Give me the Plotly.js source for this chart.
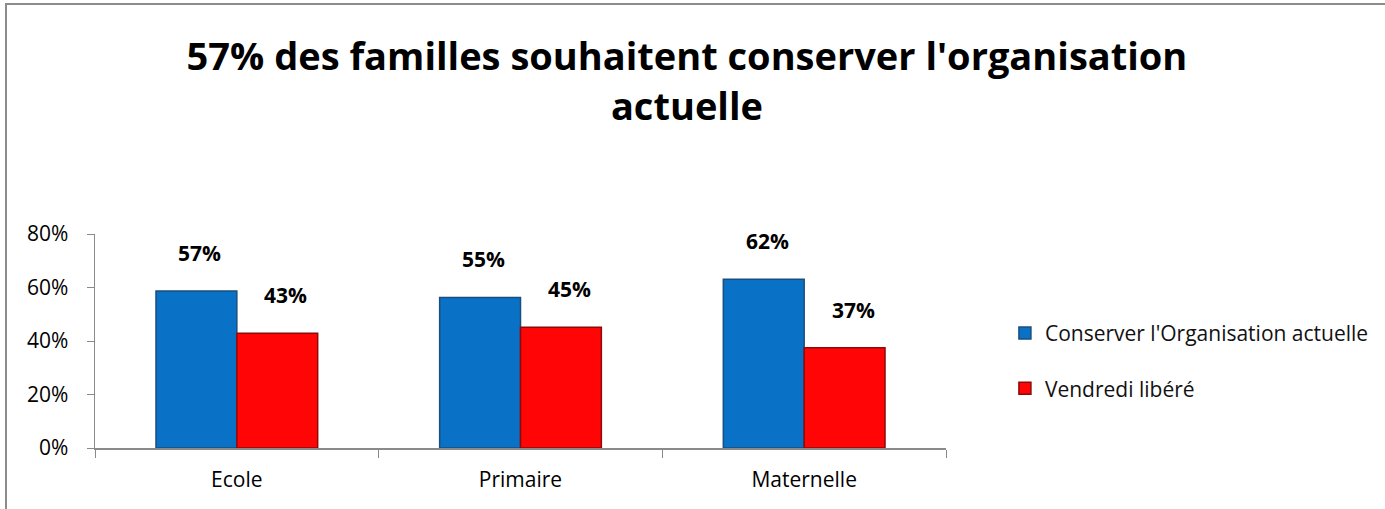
<!DOCTYPE html>
<html>
<head>
<meta charset="utf-8">
<script src="https://cdn.plot.ly/plotly-3.0.1.min.js"></script>
<style>
  html, body { margin: 0; padding: 0; background: #ffffff; }
  #wrap { position: relative; width: 1385px; height: 509px; overflow: hidden; }
  #chart { position: absolute; left: 0; top: 0; width: 1385px; height: 509px; }
  #frame { position: absolute; left: 5px; top: 3px; width: 1400px; height: 530px;
           border: 2px solid #8c8c8c; box-sizing: border-box; pointer-events: none; }
</style>
</head>
<body>
<div id="wrap">
  <div id="chart"></div>
  <div id="frame"></div>
</div>
<script>
// ---- data ----
const categories = ["Ecole", "Primaire", "Maternelle"];
const seriesNames = ["Conserver l'Organisation actuelle", "Vendredi libéré"];
const conserverValues = [0.587, 0.563, 0.631];   // bar heights as drawn
const vendrediValues  = [0.429, 0.451, 0.375];
const conserverLabels = ["57%", "55%", "62%"];   // printed data labels
const vendrediLabels  = ["43%", "45%", "37%"];
const yTickValues = [0, 0.2, 0.4, 0.6, 0.8];
const yTickLabels = ["0%", "20%", "40%", "60%", "80%"];
const titleLines = ["57% des familles souhaitent conserver l'organisation", "actuelle"];

const FONT = "'Open Sans', Lato, sans-serif";
const blue = "#0A72C6";
const red = "#FF0505";

const traces = [
  {
    type: "bar", name: seriesNames[0], x: categories, y: conserverValues,
    marker: { color: blue, line: { color: "#1B4E7E", width: 1.5 } },
    legendgroup: "a", hoverinfo: "skip"
  },
  {
    type: "bar", name: seriesNames[1], x: categories, y: vendrediValues,
    marker: { color: red, line: { color: "#8E0A0A", width: 1.5 } },
    legendgroup: "b", hoverinfo: "skip"
  }
];

const annotations = [];
categories.forEach((c, i) => {
  annotations.push({ x: c, y: conserverValues[i], xref: "x", yref: "y",
    text: "<b>" + conserverLabels[i] + "</b>", showarrow: false,
    yanchor: "bottom", yshift: 22, xshift: -41 + 4,
    font: { family: FONT, size: 21, color: "#000" } });
  annotations.push({ x: c, y: vendrediValues[i], xref: "x", yref: "y",
    text: "<b>" + vendrediLabels[i] + "</b>", showarrow: false,
    yanchor: "bottom", yshift: 22, xshift: 41 + 8,
    font: { family: FONT, size: 21, color: "#000" } });
});

const layout = {
  width: 1385, height: 509,
  margin: { l: 95, r: 439, t: 234, b: 61, pad: 0 },
  paper_bgcolor: "rgba(0,0,0,0)", plot_bgcolor: "rgba(0,0,0,0)",
  font: { family: FONT, size: 21, color: "#000" },
  title: {
    text: "<b>" + titleLines.join("<br>") + "</b>",
    font: { family: FONT, size: 38, color: "#000" },
    xref: "container", yref: "container",
    x: 0.496, xanchor: "center", y: 0.862, yanchor: "top"
  },
  barmode: "group", bargap: 0.43, bargroupgap: 0,
  showlegend: true,
  legend: {
    xref: "container", yref: "container",
    x: 0.992, xanchor: "right", y: 0.291, yanchor: "middle",
    font: { family: FONT, size: 21, color: "#111" },
    traceorder: "grouped", tracegroupgap: 25, itemwidth: 30,
    bgcolor: "rgba(0,0,0,0)"
  },
  xaxis: {
    type: "category", range: [-0.5, 2.5],
    showline: true, linecolor: "#8a8a8a", linewidth: 1.5,
    ticks: "outside", tickson: "boundaries", ticklen: 8, tickcolor: "#8a8a8a",
    showgrid: false, zeroline: false, fixedrange: true,
    tickfont: { family: FONT, size: 21, color: "#000" }, ticklabelstandoff: 12
  },
  yaxis: {
    range: [0, 0.8], tickvals: yTickValues, ticktext: yTickLabels,
    showline: true, linecolor: "#8a8a8a", linewidth: 1.5,
    ticks: "outside", ticklen: 7, tickcolor: "#8a8a8a",
    showgrid: false, zeroline: false, fixedrange: true,
    tickfont: { family: FONT, size: 21, color: "#000" }, ticklabelstandoff: 14
  },
  annotations: annotations
};

Plotly.newPlot("chart", traces, layout, { staticPlot: true, displayModeBar: false });
</script>
</body>
</html>
